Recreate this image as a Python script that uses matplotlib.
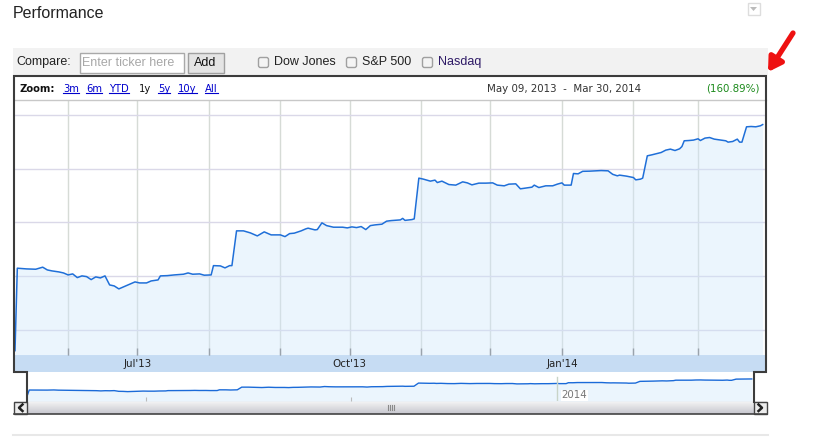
import numpy as np
import pandas as pd
import matplotlib
matplotlib.use('Agg')
import matplotlib.pyplot as plt
import matplotlib.dates as mdates
from matplotlib.patches import Rectangle, FancyBboxPatch, Polygon
from matplotlib.ticker import FuncFormatter

# data (days since the first session, price)
start = pd.Timestamp('2013-05-09')
days = [0, 1, 5, 9, 12, 14, 16, 19, 21, 23,
        25, 27, 29, 31, 33, 35, 37, 39, 41, 43,
        45, 47, 49, 52, 54, 57, 59, 62, 63, 66,
        69, 73, 75, 77, 80, 82, 85, 86, 89, 91,
        93, 94, 96, 99, 102, 105, 108, 111, 115, 117,
        119, 121, 124, 126, 127, 130, 131, 133, 135, 138,
        142, 144, 146, 148, 150, 152, 154, 156, 159, 161,
        163, 167, 168, 169, 172, 173, 175, 177, 180, 182,
        183, 185, 188, 191, 194, 196, 198, 201, 204, 207,
        209, 212, 214, 217, 219, 222, 224, 225, 227, 230,
        233, 235, 237, 238, 241, 242, 244, 246, 249, 254,
        257, 259, 261, 262, 265, 268, 269, 271, 272, 273,
        274, 276, 280, 282, 284, 286, 288, 289, 290, 292,
        294, 296, 297, 299, 301, 303, 306, 308, 309, 311,
        313, 314, 315, 317, 319, 321, 323, 324]
price = [26.15, 41.49, 41.36, 41.30, 41.68, 41.17, 40.99, 40.80, 40.61, 40.24,
         40.43, 39.74, 40.06, 39.93, 39.37, 39.87, 39.68, 40.06, 38.38, 38.19,
         37.64, 38.01, 38.38, 38.94, 38.75, 38.75, 39.12, 39.31, 40.06, 40.11,
         40.24, 40.37, 40.61, 40.37, 40.43, 40.19, 40.24, 41.97, 41.92, 41.55,
         41.97, 41.97, 48.44, 48.44, 48.06, 47.50, 48.25, 47.69, 47.69, 47.37,
         47.93, 48.01, 48.44, 48.81, 48.94, 48.62, 48.68, 49.93, 49.42, 49.12,
         49.12, 48.99, 49.18, 49.05, 49.24, 48.68, 49.42, 49.55, 49.68, 50.24,
         50.35, 50.48, 50.76, 50.39, 50.54, 50.67, 58.25, 58.06, 57.69, 57.88,
         57.43, 57.69, 57.06, 56.95, 57.56, 57.37, 57.00, 57.32, 57.32, 57.37,
         56.95, 56.82, 57.13, 57.19, 56.26, 56.44, 56.57, 56.95, 56.50, 56.82,
         56.82, 57.13, 57.37, 56.95, 56.95, 59.11, 59.05, 59.52, 59.55, 59.66,
         59.61, 58.96, 58.68, 58.81, 58.62, 58.36, 57.93, 58.06, 58.25, 60.35,
         62.40, 62.59, 63.02, 63.46, 63.65, 63.39, 63.71, 64.13, 65.20, 65.25,
         65.33, 65.57, 65.25, 65.70, 65.81, 65.51, 65.33, 65.20, 64.95, 65.07,
         65.51, 64.95, 64.95, 67.80, 67.86, 67.80, 67.99, 68.22]
grid_prices = [30, 40, 50, 60, 70]
quarter_labels = {'2013-07': "Jul'13", '2013-10': "Oct'13", '2014-01': "Jan'14"}
nav_ticks = ['2013-07-01', '2013-10-01']
year_line = '2014-01-01'
zoom_links = ['3m', '6m', 'YTD', '1y', '5y', '10y', 'All']
compare_names = ['Dow Jones', 'S&P 500', 'Nasdaq']
range_text = 'May 09, 2013  -  Mar 30, 2014'
change_text = '(160.89%)'

dates = [start + pd.Timedelta(days=d) for d in days]
end = start + pd.Timedelta(days=325)

W, H = 819, 447
fig = plt.figure(figsize=(W / 100, H / 100), dpi=100)
fig.patch.set_facecolor('white')


def box(x0, y0, x1, y1):
    return [x0 / W, 1 - y1 / H, (x1 - x0) / W, (y1 - y0) / H]


sans = 'Liberation Sans'
dv = 'DejaVu Sans'

# page layer in pixel units
bg = fig.add_axes([0, 0, 1, 1], zorder=0)
bg.set_xlim(0, W)
bg.set_ylim(H, 0)
bg.axis('off')

bg.text(13, 13, 'Performance', fontsize=11.5, family=sans, color='#222222', va='center')
bg.add_patch(Rectangle((747.5, 2.5), 12, 12, fc='white', ec='#dddddd', lw=1))
bg.add_patch(Polygon([(750, 7), (757, 7), (753.5, 11)], fc='#bbbbbb', ec='none'))

# compare toolbar
bg.add_patch(Rectangle((13, 48), 755, 27, fc='#f2f2f2', ec='none'))
bg.text(16, 62, 'Compare:', fontsize=9, family=sans, color='#222222', va='center')
bg.add_patch(Rectangle((79.5, 52.5), 104, 20, fc='white', ec='#a9a9a9', lw=1))
bg.text(82, 62.5, 'Enter ticker here', fontsize=9, family=sans, color='#a8a8a8', va='center')
bg.add_patch(Rectangle((187.5, 52.5), 36, 20, fc='#e4e4e4', ec='#a0a0a0', lw=1))
bg.text(205.5, 62.5, 'Add', fontsize=9, family=sans, color='#111111', va='center', ha='center')
for name, cx, col in zip(compare_names, [258, 346, 422], ['#222222', '#222222', '#2e1a66']):
    bg.add_patch(FancyBboxPatch((cx + 0.5, 57.5), 10, 10, boxstyle='round,pad=0,rounding_size=2',
                                fc='#f4f4f4', ec='#a0a0a0', lw=1))
    bg.text(cx + 16, 62, name, fontsize=9, family=sans, color=col, va='center')

# zoom header
bg.text(20, 88.5, 'Zoom:', fontsize=7.2, family=dv, weight='bold', color='#111111', va='center')
link_texts = []
for lab, lx in zip(zoom_links, [63, 86, 109, 139, 158, 178, 205]):
    c = '#111111' if lab == '1y' else '#0000cc'
    t = bg.text(lx, 88.5, lab, fontsize=7.2, family=dv, color=c, va='center')
    if lab != '1y':
        link_texts.append(t)
bg.text(641, 88.5, range_text, fontsize=7.4, family=dv, color='#333333', va='center', ha='right')
bg.text(760, 88.5, change_text, fontsize=7.4, family=dv, color='#1b8a1b', va='center', ha='right')

# date band under the plot
bg.add_patch(Rectangle((15, 355), 751, 16.7, fc='#c6dcf3', ec='none'))

# scrollbar
grad = np.linspace(0, 1, 20)[:, None]
top_c = np.array([0.96, 0.96, 0.96])
bot_c = np.array([0.78, 0.78, 0.81])
img = (top_c * (1 - grad) + bot_c * grad)[:, None, :].repeat(2, axis=1)
bg.imshow(img, extent=(14, 767, 414, 401.5), aspect='auto', interpolation='bilinear', zorder=1)
bg.set_xlim(0, W)
bg.set_ylim(H, 0)
for bx in [14, 754]:
    bg.add_patch(Rectangle((bx, 401.5), 13, 12.5, fc='#ececec', ec='#444444', lw=1, zorder=2))
bg.plot([22.5, 19, 22.5], [404.5, 407.8, 411], color='#222222', lw=1.8, zorder=3)
bg.plot([758.5, 762, 758.5], [404.5, 407.8, 411], color='#222222', lw=1.8, zorder=3)
for gx in [387.5, 389.5, 391.5, 393.5]:
    bg.plot([gx, gx], [405, 410], color='#8a8a8a', lw=0.8, zorder=3)
bg.plot([13, 768], [434.5, 434.5], color='#e8e8e8', lw=1.5)

# main price chart
y_bottom, y_top = 25.34, 72.79
ax = fig.add_axes(box(15, 100, 765, 355), zorder=2)
ax.set_facecolor('white')
ax.fill_between(dates, price, y_bottom, color='#cfe6fc', alpha=0.4, lw=0, zorder=1)
ax.plot(dates, price, color='#1f6fd8', lw=1.1, zorder=3)
ax.set_xlim(start, end)
ax.set_ylim(y_bottom, y_top)
ax.set_yticks(grid_prices)
ax.tick_params(axis='y', length=0, labelleft=False)
ax.xaxis.set_major_locator(mdates.MonthLocator())
ax.xaxis.set_major_formatter(FuncFormatter(
    lambda v, p: quarter_labels.get(mdates.num2date(v).strftime('%Y-%m'), '')))
ax.tick_params(axis='x', direction='in', length=5, width=1, color='#777777',
               labelsize=7.4, pad=3, labelcolor='#222222')
for lbl in ax.get_xticklabels():
    lbl.set_family(dv)
ax.set_axisbelow(True)
ax.grid(True, axis='y', color='#dad8e8', lw=1)
ax.grid(True, axis='x', color='#d6dbd6', lw=1)
for s in ax.spines.values():
    s.set_visible(False)

# navigator
nav = fig.add_axes(box(27, 372, 754, 401), zorder=2)
nav.set_facecolor('white')
nav.fill_between(dates, price, 15, color='#cfe6fc', alpha=0.4, lw=0)
nav.plot(dates, price, color='#1a6ad8', lw=1)
nav.set_xlim(start, end)
nav.set_ylim(15, 85)
nav.axvline(pd.Timestamp(year_line), ymin=0, ymax=0.83, color='#c8d4c8', lw=1)
nav.annotate(year_line[:4], xy=(pd.Timestamp(year_line), 0), xycoords=('data', 'axes fraction'),
             xytext=(3, 2), textcoords='offset points', fontsize=7.4, family=dv, color='#777777',
             bbox=dict(fc='white', ec='none', pad=0.5))
nav.set_xticks([pd.Timestamp(t) for t in nav_ticks])
nav.tick_params(axis='x', direction='in', length=3, color='#bbbbbb', labelbottom=False)
nav.set_yticks([])
for s in nav.spines.values():
    s.set_visible(False)

# borders and the red pointer on top
ov = fig.add_axes([0, 0, 1, 1], zorder=5)
ov.set_xlim(0, W)
ov.set_ylim(H, 0)
ov.axis('off')
ov.patch.set_alpha(0)
ov.plot([15, 765.5], [100, 100], color='#c8c8c8', lw=1)
border = '#3c3c3c'
ov.plot([27, 27, 14.3, 14.3, 766.3, 766.3, 754, 754], [401.5, 372, 372, 75.6, 75.6, 372, 372, 401.5],
        color=border, lw=1.5, solid_joinstyle='miter')
ov.plot([14, 767], [414, 414], color='#444444', lw=1.2)
ov.annotate('', xy=(768, 72), xytext=(793, 33),
            arrowprops=dict(arrowstyle='-|>,head_length=0.5,head_width=0.3', color='#ee1111',
                            lw=3.8, mutation_scale=16, shrinkA=0, shrinkB=0))

# underline the zoom links
fig.canvas.draw()
r = fig.canvas.get_renderer()
inv = bg.transData.inverted()
for t in link_texts:
    bb = t.get_window_extent(r)
    (x0, y0), (x1, y1) = inv.transform([(bb.x0, bb.y0), (bb.x1, bb.y1)])
    bg.plot([x0, x1], [max(y0, y1) - 0.5, max(y0, y1) - 0.5], color='#0000cc', lw=0.8)

fig.savefig('out.png', dpi=100, facecolor='white')
